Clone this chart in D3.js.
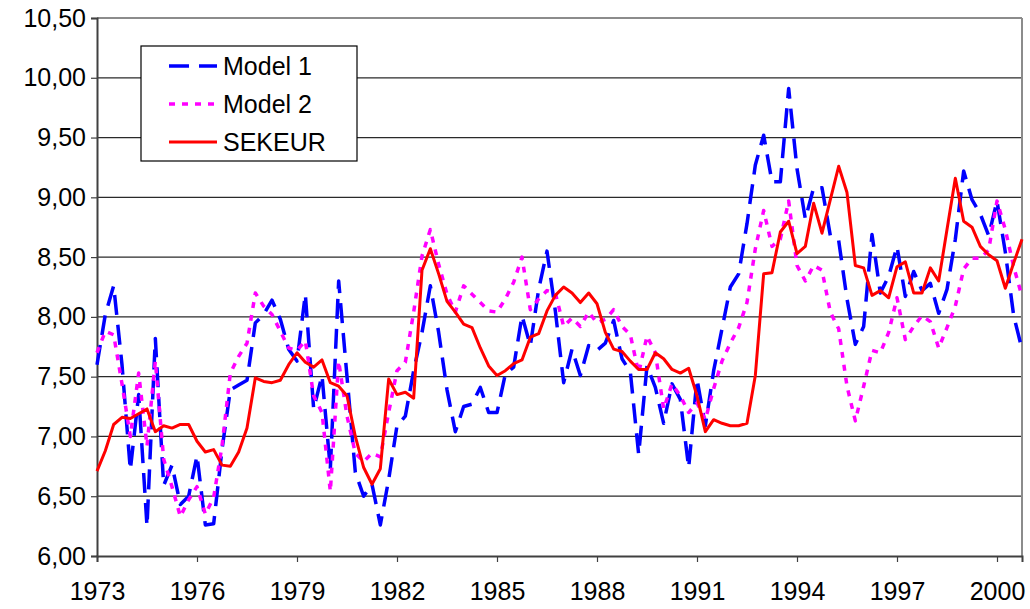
<!DOCTYPE html>
<html>
<head>
<meta charset="utf-8">
<script src="https://cdn.jsdelivr.net/npm/d3@7"></script>
<style>
    body { margin: 0; background: #fff; }
    #chart { width: 1030px; height: 609px; }
    text { font-family: Arial, "Liberation Sans", sans-serif; fill: #000; }
</style>
</head>
<body>
<div id="chart"></div>
<script>

// quarterly observations, 1973Q1 .. 2000Q4
let startYear = 1973;

let model1 = [7.60, 8.02, 8.26, 7.60, 6.72, 7.35, 6.25, 7.82, 6.59, 6.76, 6.43, 6.50,
    6.84, 6.26, 6.27, 6.89, 7.39, 7.43, 7.47, 7.95, 8.02, 8.14, 7.98, 7.73,
    7.63, 8.19, 7.23, 7.51, 6.73, 8.30, 7.50, 6.70, 6.50, 6.60, 6.26, 6.64,
    7.09, 7.17, 7.55, 7.87, 8.26, 7.87, 7.39, 7.04, 7.25, 7.27, 7.41, 7.20,
    7.20, 7.52, 7.58, 8.01, 7.76, 8.23, 8.55, 8.05, 7.45, 7.73, 7.51, 7.76,
    7.72, 7.78, 7.97, 7.65, 7.54, 6.85, 7.59, 7.41, 7.11, 7.44, 7.31, 6.74,
    7.48, 7.09, 7.55, 7.90, 8.25, 8.36, 8.78, 9.27, 9.52, 9.13, 9.13, 9.91,
    9.24, 8.82, 9.08, 9.08, 8.68, 8.64, 8.15, 7.77, 7.92, 8.69, 8.20, 8.34,
    8.59, 8.17, 8.38, 8.22, 8.28, 8.03, 8.23, 8.65, 9.22, 8.98, 8.86, 8.68,
    8.97, 8.54, 8.01, 7.73];

let model2 = [7.70, 7.88, 7.85, 7.44, 7.00, 7.53, 6.92, 7.63, 6.81, 6.58, 6.33, 6.47,
    6.58, 6.35, 6.49, 6.92, 7.53, 7.67, 7.78, 8.20, 8.09, 8.02, 7.88, 7.74,
    7.72, 7.80, 7.34, 7.20, 6.54, 7.63, 7.17, 6.86, 6.79, 6.86, 6.83, 7.20,
    7.55, 7.62, 8.04, 8.51, 8.73, 8.44, 8.19, 8.04, 8.26, 8.19, 8.12, 8.05,
    8.04, 8.15, 8.29, 8.50, 8.06, 8.15, 8.22, 8.20, 7.92, 7.99, 7.92, 8.04,
    7.95, 7.98, 8.06, 7.92, 7.85, 7.53, 7.84, 7.70, 7.23, 7.44, 7.34, 7.20,
    7.28, 7.14, 7.40, 7.63, 7.78, 7.91, 8.12, 8.57, 8.89, 8.59, 8.65, 8.97,
    8.43, 8.30, 8.43, 8.39, 8.04, 7.90, 7.42, 7.13, 7.42, 7.72, 7.70, 7.87,
    8.16, 7.81, 7.92, 8.01, 7.96, 7.74, 7.91, 8.09, 8.40, 8.49, 8.49, 8.56,
    8.97, 8.73, 8.42, 8.17];

let sekeur = [6.71, 6.88, 7.10, 7.16, 7.15, 7.19, 7.23, 7.04, 7.09, 7.07, 7.10, 7.10,
    6.96, 6.87, 6.89, 6.76, 6.75, 6.87, 7.07, 7.49, 7.46, 7.45, 7.47, 7.60,
    7.70, 7.62, 7.58, 7.64, 7.45, 7.42, 7.34, 7.00, 6.74, 6.60, 6.73, 7.48,
    7.35, 7.37, 7.32, 8.39, 8.57, 8.36, 8.13, 8.04, 7.94, 7.91, 7.74, 7.59,
    7.51, 7.55, 7.61, 7.64, 7.83, 7.86, 8.05, 8.18, 8.25, 8.20, 8.12, 8.20,
    8.11, 7.87, 7.73, 7.71, 7.63, 7.56, 7.56, 7.70, 7.65, 7.56, 7.53, 7.57,
    7.34, 7.04, 7.14, 7.11, 7.09, 7.09, 7.11, 7.51, 8.36, 8.37, 8.71, 8.80,
    8.53, 8.59, 8.95, 8.70, 8.98, 9.26, 9.04, 8.43, 8.41, 8.18, 8.22, 8.16,
    8.42, 8.46, 8.20, 8.20, 8.41, 8.30, 8.73, 9.16, 8.80, 8.75, 8.59, 8.52,
    8.47, 8.24, 8.45, 8.65];

let yTicks = [6, 6.5, 7, 7.5, 8, 8.5, 9, 9.5, 10, 10.5];
let xTicks = [1973, 1976, 1979, 1982, 1985, 1988, 1991, 1994, 1997, 2000];

let seriesNames = ["Model 1", "Model 2", "SEKEUR"];
let seriesColors = ["#0000ff", "#ff00ff", "#ff0000"];
let seriesDash = ["20,10", "6,7", null];
let seriesWidth = [3.5, 3.5, 3];


let margin = { top: 18, right: 8, bottom: 53, left: 97 };
let width = 1030 - margin.left - margin.right;
let height = 609 - margin.top - margin.bottom;

let svg = d3.select("#chart").append("svg")
    .attr("width", 1030)
    .attr("height", 609);

svg.append("rect")
    .attr("width", 1030)
    .attr("height", 609)
    .attr("fill", "#fff");

let plot = svg.append("g")
    .attr("transform", `translate(${margin.left},${margin.top})`);

let lastYear = startYear + (sekeur.length - 1) / 4;

let x = d3.scaleLinear().domain([startYear, lastYear]).range([0, width]);
let y = d3.scaleLinear().domain([6, 10.5]).range([height, 0]);

// gridlines
plot.append("g")
    .attr("class", "grid")
    .selectAll("line")
    .data(yTicks.filter(d => d > 6))
    .enter().append("line")
    .attr("x1", 0)
    .attr("x2", width)
    .attr("y1", d => y(d))
    .attr("y2", d => y(d))
    .attr("stroke", d => d == 10.5 ? "#8c8c8c" : "#2a2a2a")
    .attr("stroke-width", d => d == 10.5 ? 2 : 1.2);

// right border of plot area
plot.append("line")
    .attr("x1", width).attr("x2", width)
    .attr("y1", 0).attr("y2", height)
    .attr("stroke", "#8c8c8c")
    .attr("stroke-width", 2);

let commaFmt = d => d3.format(".2f")(d).replace(".", ",");

let yAxis = plot.append("g")
    .call(d3.axisLeft(y).tickValues(yTicks).tickSize(6).tickPadding(5).tickFormat(commaFmt));

let xAxis = plot.append("g")
    .attr("transform", `translate(0,${height})`)
    .call(d3.axisBottom(x).tickValues(xTicks).tickSize(6).tickPadding(20).tickFormat(d3.format("d")));

[yAxis, xAxis].forEach(ax => {
    ax.select(".domain").attr("stroke", "#404040").attr("stroke-width", 2);
    ax.selectAll(".tick line").attr("stroke", "#404040").attr("stroke-width", 1.2);
    ax.selectAll(".tick text")
        .attr("fill", "#000")
        .style("font-size", "25px")
        .style("font-family", "Arial, 'Liberation Sans', sans-serif");
});

// the three series
let allSeries = [model1, model2, sekeur];

let line = d3.line()
    .x((d, i) => x(startYear + i / 4))
    .y(d => y(d));

plot.append("g")
    .attr("class", "series-g")
    .selectAll("path")
    .data(allSeries)
    .enter().append("path")
    .attr("d", d => line(d))
    .attr("fill", "none")
    .attr("stroke", (d, i) => seriesColors[i])
    .attr("stroke-width", (d, i) => seriesWidth[i])
    .attr("stroke-dasharray", (d, i) => seriesDash[i])
    .attr("stroke-linejoin", "round");

// legend
let legend = svg.append("g")
    .attr("transform", "translate(141,46)");

legend.append("rect")
    .attr("width", 216)
    .attr("height", 115)
    .attr("fill", "#fff")
    .attr("stroke", "#000")
    .attr("stroke-width", 1.2);

let rowY = [20, 58, 96];

let items = legend.selectAll(".item")
    .data(seriesNames)
    .enter().append("g")
    .attr("class", "item")
    .attr("transform", (d, i) => `translate(0,${rowY[i]})`);

items.append("line")
    .attr("x1", 28)
    .attr("x2", 76)
    .attr("stroke", (d, i) => seriesColors[i])
    .attr("stroke-width", (d, i) => seriesWidth[i])
    .attr("stroke-dasharray", (d, i) => seriesDash[i]);

items.append("text")
    .attr("x", 82)
    .attr("y", 9)
    .style("font-size", "25px")
    .text(d => d);

</script>
</body>
</html>
